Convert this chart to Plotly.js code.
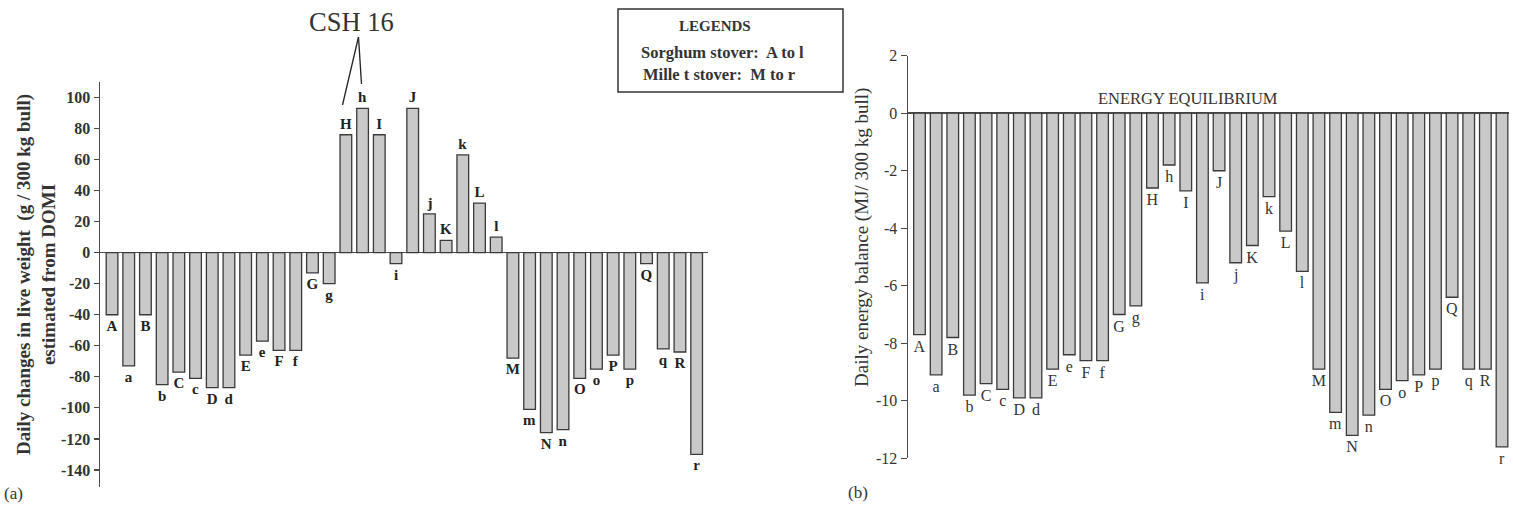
<!DOCTYPE html>
<html>
<head>
<meta charset="utf-8">
<script src="https://cdn.plot.ly/plotly-3.0.1.min.js"></script>
<style>html,body{margin:0;padding:0;background:#fff;}#chart{width:1513px;height:513px;}</style>
</head>
<body>
<div id="chart"></div>
<script>
// ---- data ----
const categories = ['A','a','B','b','C','c','D','d','E','e','F','f','G','g','H','h','I','i','J','j','K','k','L','l','M','m','N','n','O','o','P','p','Q','q','R','r'];
const weightChange = [-40,-73,-40,-85,-77,-81,-87,-87,-66,-57,-63,-63,-13,-20,76,93,76,-7,93,25,8,63,32,10,-68,-101,-116,-114,-81,-75,-66,-75,-7,-62,-64,-130];
const energyBalance = [-7.7,-9.1,-7.8,-9.8,-9.4,-9.6,-9.9,-9.9,-8.9,-8.4,-8.6,-8.6,-7.0,-6.7,-2.6,-1.8,-2.7,-5.9,-2.0,-5.2,-4.6,-2.9,-4.1,-5.5,-8.9,-10.4,-11.2,-10.5,-9.6,-9.3,-9.1,-8.9,-6.4,-8.9,-8.9,-11.6];
const weightTicks = [-140,-120,-100,-80,-60,-40,-20,0,20,40,60,80,100];
const energyTicks = [-12,-10,-8,-6,-4,-2,0,2];
const weightTickText = weightTicks.map(String);
const energyTickText = energyTicks.map(String);

const W = 1513, H = 513;
const px = x => x / W;
const py = y => 1 - y / H;
const SERIF = 'Liberation Serif, Times New Roman, serif';
const barFill = '#c9c9c9';
const barLine = '#3a3a3a';
const axisCol = '#4a4a4a';

const traces = [
  {
    type: 'bar', x: categories, y: weightChange, xaxis: 'x', yaxis: 'y',
    text: categories, textposition: 'outside', cliponaxis: false, constraintext: 'none',
    textfont: {family: SERIF, size: 15, color: '#222', weight: 'bold'},
    marker: {color: barFill, line: {color: barLine, width: 1.3}},
    hoverinfo: 'x+y', showlegend: false
  },
  {
    type: 'bar', x: categories, y: energyBalance, xaxis: 'x2', yaxis: 'y2',
    text: categories, textposition: 'outside', cliponaxis: false, constraintext: 'none',
    textfont: {family: SERIF, size: 16, color: '#333'},
    marker: {color: barFill, line: {color: barLine, width: 1.3}},
    hoverinfo: 'x+y', showlegend: false
  }
];

const layout = {
  width: W, height: H,
  margin: {l: 0, r: 0, t: 0, b: 0},
  paper_bgcolor: '#fff', plot_bgcolor: '#fff',
  bargap: 0.3,
  font: {family: SERIF, color: '#222'},
  xaxis: {
    domain: [px(100), px(708)], anchor: 'y', type: 'category',
    range: [-0.72, 35.68], showticklabels: false, ticks: '', showgrid: false, showline: false, zeroline: false
  },
  yaxis: {
    domain: [py(487), py(82)], anchor: 'x',
    range: [-151, 110], tickvals: weightTicks, ticktext: weightTickText,
    ticks: 'outside', ticklen: 5, tickwidth: 1.2, tickcolor: axisCol,
    showline: true, linecolor: axisCol, linewidth: 1.5, showgrid: false,
    zeroline: true, zerolinecolor: axisCol, zerolinewidth: 1.5,
    tickfont: {family: SERIF, size: 16, color: '#333', weight: 'bold'}
  },
  xaxis2: {
    domain: [px(908), px(1509)], anchor: 'y2', type: 'category',
    range: [-0.69, 35.42], showticklabels: false, ticks: '', showgrid: false, showline: false, zeroline: false
  },
  yaxis2: {
    domain: [py(458.3), py(55.7)], anchor: 'x2',
    range: [-12, 2], tickvals: energyTicks, ticktext: energyTickText,
    ticks: 'outside', ticklen: 6, tickwidth: 1.2, tickcolor: axisCol,
    showline: true, linecolor: axisCol, linewidth: 1.5, showgrid: false,
    zeroline: true, zerolinecolor: axisCol, zerolinewidth: 1.5,
    tickfont: {family: SERIF, size: 16, color: '#333'}
  },
  shapes: [
    // legend box
    {type: 'rect', xref: 'paper', yref: 'paper', x0: px(618), x1: px(843), y0: py(92), y1: py(9),
     line: {color: '#333', width: 1.5}},
    // CSH 16 pointer lines
    {type: 'line', xref: 'paper', yref: 'paper', x0: px(358.5), y0: py(37), x1: px(342.5), y1: py(105),
     line: {color: '#222', width: 1.3}},
    {type: 'line', xref: 'paper', yref: 'paper', x0: px(358.5), y0: py(37), x1: px(361.5), y1: py(84),
     line: {color: '#222', width: 1.3}}
  ],
  annotations: [
    {xref: 'paper', yref: 'paper', x: px(36), y: py(275), textangle: -90, showarrow: false,
     text: 'Daily changes in live weight  (g / 300 kg bull)<br>estimated from DOMI',
     font: {family: SERIF, size: 19, color: '#333', weight: 'bold'}, xanchor: 'center', yanchor: 'middle'},
    {xref: 'paper', yref: 'paper', x: px(862), y: py(238), textangle: -90, showarrow: false,
     text: 'Daily energy balance (MJ/ 300 kg bull)',
     font: {family: SERIF, size: 19, color: '#333'}, xanchor: 'center', yanchor: 'middle'},
    {xref: 'paper', yref: 'paper', x: px(351), y: py(22), showarrow: false, text: 'CSH 16',
     font: {family: SERIF, size: 26.5, color: '#333'}, xanchor: 'center', yanchor: 'middle'},
    {xref: 'paper', yref: 'paper', x: px(715), y: py(26), showarrow: false, text: 'LEGENDS',
     font: {family: SERIF, size: 15, color: '#333', weight: 'bold'}, xanchor: 'center', yanchor: 'middle'},
    {xref: 'paper', yref: 'paper', x: px(722), y: py(52), showarrow: false, text: 'Sorghum stover:  A to l',
     font: {family: SERIF, size: 16.5, color: '#333', weight: 'bold'}, xanchor: 'center', yanchor: 'middle'},
    {xref: 'paper', yref: 'paper', x: px(719), y: py(75), showarrow: false, text: 'Mille t stover:  M to r',
     font: {family: SERIF, size: 16.5, color: '#333', weight: 'bold'}, xanchor: 'center', yanchor: 'middle'},
    {xref: 'paper', yref: 'paper', x: px(1188), y: py(98), showarrow: false, text: 'ENERGY EQUILIBRIUM',
     font: {family: SERIF, size: 16.5, color: '#333'}, xanchor: 'center', yanchor: 'middle'},
    {xref: 'paper', yref: 'paper', x: px(13), y: py(493), showarrow: false, text: '(a)',
     font: {family: SERIF, size: 17, color: '#333'}, xanchor: 'center', yanchor: 'middle'},
    {xref: 'paper', yref: 'paper', x: px(858), y: py(492), showarrow: false, text: '(b)',
     font: {family: SERIF, size: 17, color: '#333'}, xanchor: 'center', yanchor: 'middle'}
  ]
};

Plotly.newPlot('chart', traces, layout, {staticPlot: true, displayModeBar: false});
</script>
</body>
</html>
